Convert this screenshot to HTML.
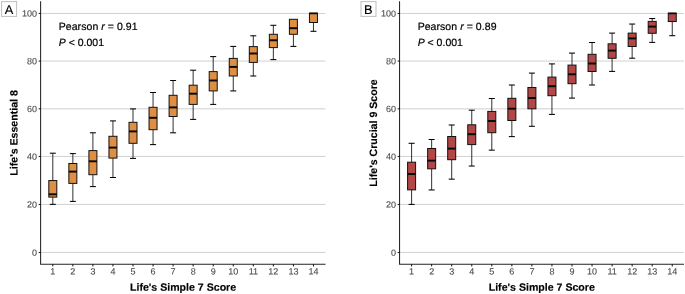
<!DOCTYPE html>
<html lang="en">
<head>
<meta charset="utf-8">
<title>Life's Simple 7 Score boxplots</title>
<style>
html,body{margin:0;padding:0;background:#fff;}
body{width:685px;height:294px;overflow:hidden;}
svg{display:block;font-family:"Liberation Sans",Arial,Helvetica,sans-serif;text-rendering:geometricPrecision;}
.w{stroke:#1a1a1a;stroke-width:0.9;fill:none;}
.b{stroke:#111;stroke-width:1;}
.c{stroke:#000;stroke-width:1.05;}
.m{stroke:#0a0a0a;stroke-width:1.95;}
.ax{stroke:#242424;stroke-width:1.05;fill:none;}
.t{stroke:#111;stroke-width:1;}
.tl{font-size:9px;fill:#4d4d4d;stroke:#4d4d4d;stroke-width:0.12;}
.ti{font-size:10.6px;font-weight:bold;fill:#000;stroke:#000;stroke-width:0.15;}
.an{font-size:10.5px;fill:#000;stroke:#000;stroke-width:0.2;}
.lb{font-size:12.8px;fill:#000;stroke:#000;stroke-width:0.15;}
</style>
</head>
<body>
<svg width="685" height="294" viewBox="0 0 685 294">
<rect width="685" height="294" fill="#fff"/>
<g>
<line x1="40.6" x2="325.5" y1="252.45" y2="252.45" stroke="#c8c8c8" stroke-width="0.85"/>
<line x1="40.6" x2="325.5" y1="204.45" y2="204.45" stroke="#c8c8c8" stroke-width="0.85"/>
<line x1="40.6" x2="325.5" y1="156.45" y2="156.45" stroke="#c8c8c8" stroke-width="0.85"/>
<line x1="40.6" x2="325.5" y1="108.85" y2="108.85" stroke="#c8c8c8" stroke-width="0.85"/>
<line x1="40.6" x2="325.5" y1="61.05" y2="61.05" stroke="#c8c8c8" stroke-width="0.85"/>
<line x1="40.6" x2="325.5" y1="13.45" y2="13.45" stroke="#c8c8c8" stroke-width="0.85"/>
<line x1="52.8" x2="52.8" y1="153.2" y2="180.55" class="w"/>
<line x1="49.8" x2="55.8" y1="153.2" y2="153.2" class="c"/>
<line x1="52.8" x2="52.8" y1="197.1" y2="204.35" class="w"/>
<line x1="49.8" x2="55.8" y1="204.35" y2="204.35" class="c"/>
<rect x="48.8" y="180.55" width="8" height="16.55" fill="#DF8F44" class="b"/>
<line x1="48.8" x2="56.8" y1="194.3" y2="194.3" class="m"/>
<line x1="72.85" x2="72.85" y1="153.6" y2="163.5" class="w"/>
<line x1="69.85" x2="75.85" y1="153.6" y2="153.6" class="c"/>
<line x1="72.85" x2="72.85" y1="183.4" y2="201.4" class="w"/>
<line x1="69.85" x2="75.85" y1="201.4" y2="201.4" class="c"/>
<rect x="68.85" y="163.5" width="8" height="19.9" fill="#DF8F44" class="b"/>
<line x1="68.85" x2="76.85" y1="171.6" y2="171.6" class="m"/>
<line x1="92.9" x2="92.9" y1="132.8" y2="150.6" class="w"/>
<line x1="89.9" x2="95.9" y1="132.8" y2="132.8" class="c"/>
<line x1="92.9" x2="92.9" y1="174.7" y2="186.6" class="w"/>
<line x1="89.9" x2="95.9" y1="186.6" y2="186.6" class="c"/>
<rect x="88.9" y="150.6" width="8" height="24.1" fill="#DF8F44" class="b"/>
<line x1="88.9" x2="96.9" y1="161.3" y2="161.3" class="m"/>
<line x1="112.95" x2="112.95" y1="120.9" y2="136.3" class="w"/>
<line x1="109.95" x2="115.95" y1="120.9" y2="120.9" class="c"/>
<line x1="112.95" x2="112.95" y1="158.1" y2="177.5" class="w"/>
<line x1="109.95" x2="115.95" y1="177.5" y2="177.5" class="c"/>
<rect x="108.95" y="136.3" width="8" height="21.8" fill="#DF8F44" class="b"/>
<line x1="108.95" x2="116.95" y1="147.6" y2="147.6" class="m"/>
<line x1="133" x2="133" y1="108.9" y2="122.3" class="w"/>
<line x1="130" x2="136" y1="108.9" y2="108.9" class="c"/>
<line x1="133" x2="133" y1="143.3" y2="158.4" class="w"/>
<line x1="130" x2="136" y1="158.4" y2="158.4" class="c"/>
<rect x="129" y="122.3" width="8" height="21" fill="#DF8F44" class="b"/>
<line x1="129" x2="137" y1="131.4" y2="131.4" class="m"/>
<line x1="153.05" x2="153.05" y1="92.5" y2="107.3" class="w"/>
<line x1="150.05" x2="156.05" y1="92.5" y2="92.5" class="c"/>
<line x1="153.05" x2="153.05" y1="129.7" y2="144.6" class="w"/>
<line x1="150.05" x2="156.05" y1="144.6" y2="144.6" class="c"/>
<rect x="149.05" y="107.3" width="8" height="22.4" fill="#DF8F44" class="b"/>
<line x1="149.05" x2="157.05" y1="117.8" y2="117.8" class="m"/>
<line x1="173.1" x2="173.1" y1="80.5" y2="95.3" class="w"/>
<line x1="170.1" x2="176.1" y1="80.5" y2="80.5" class="c"/>
<line x1="173.1" x2="173.1" y1="116.5" y2="132.8" class="w"/>
<line x1="170.1" x2="176.1" y1="132.8" y2="132.8" class="c"/>
<rect x="169.1" y="95.3" width="8" height="21.2" fill="#DF8F44" class="b"/>
<line x1="169.1" x2="177.1" y1="107.4" y2="107.4" class="m"/>
<line x1="193.15" x2="193.15" y1="70.2" y2="85.2" class="w"/>
<line x1="190.15" x2="196.15" y1="70.2" y2="70.2" class="c"/>
<line x1="193.15" x2="193.15" y1="104.4" y2="119.4" class="w"/>
<line x1="190.15" x2="196.15" y1="119.4" y2="119.4" class="c"/>
<rect x="189.15" y="85.2" width="8" height="19.2" fill="#DF8F44" class="b"/>
<line x1="189.15" x2="197.15" y1="93.7" y2="93.7" class="m"/>
<line x1="213.2" x2="213.2" y1="56.6" y2="71.6" class="w"/>
<line x1="210.2" x2="216.2" y1="56.6" y2="56.6" class="c"/>
<line x1="213.2" x2="213.2" y1="90.9" y2="104.4" class="w"/>
<line x1="210.2" x2="216.2" y1="104.4" y2="104.4" class="c"/>
<rect x="209.2" y="71.6" width="8" height="19.3" fill="#DF8F44" class="b"/>
<line x1="209.2" x2="217.2" y1="80.5" y2="80.5" class="m"/>
<line x1="233.25" x2="233.25" y1="46.4" y2="58.4" class="w"/>
<line x1="230.25" x2="236.25" y1="46.4" y2="46.4" class="c"/>
<line x1="233.25" x2="233.25" y1="76" y2="90.9" class="w"/>
<line x1="230.25" x2="236.25" y1="90.9" y2="90.9" class="c"/>
<rect x="229.25" y="58.4" width="8" height="17.6" fill="#DF8F44" class="b"/>
<line x1="229.25" x2="237.25" y1="66.9" y2="66.9" class="m"/>
<line x1="253.3" x2="253.3" y1="35.8" y2="46.6" class="w"/>
<line x1="250.3" x2="256.3" y1="35.8" y2="35.8" class="c"/>
<line x1="253.3" x2="253.3" y1="62.4" y2="76" class="w"/>
<line x1="250.3" x2="256.3" y1="76" y2="76" class="c"/>
<rect x="249.3" y="46.6" width="8" height="15.8" fill="#DF8F44" class="b"/>
<line x1="249.3" x2="257.3" y1="53.5" y2="53.5" class="m"/>
<line x1="273.35" x2="273.35" y1="25.3" y2="34.3" class="w"/>
<line x1="270.35" x2="276.35" y1="25.3" y2="25.3" class="c"/>
<line x1="273.35" x2="273.35" y1="47.6" y2="59.6" class="w"/>
<line x1="270.35" x2="276.35" y1="59.6" y2="59.6" class="c"/>
<rect x="269.35" y="34.3" width="8" height="13.3" fill="#DF8F44" class="b"/>
<line x1="269.35" x2="277.35" y1="40.3" y2="40.3" class="m"/>
<line x1="293.4" x2="293.4" y1="34.3" y2="46.4" class="w"/>
<line x1="290.4" x2="296.4" y1="46.4" y2="46.4" class="c"/>
<rect x="289.4" y="19.3" width="8" height="15" fill="#DF8F44" class="b"/>
<line x1="289.4" x2="297.4" y1="28.2" y2="28.2" class="m"/>
<line x1="313.45" x2="313.45" y1="22.5" y2="31.3" class="w"/>
<line x1="310.45" x2="316.45" y1="31.3" y2="31.3" class="c"/>
<rect x="309.45" y="13.15" width="8" height="9.35" fill="#DF8F44" class="b"/>
<line x1="309.45" x2="317.45" y1="13.45" y2="13.45" class="m" style="stroke-width:1.6"/>
<path d="M40.6 1.3V264.15H325.5" class="ax"/>
<line x1="38.7" x2="40.6" y1="252.45" y2="252.45" class="t"/>
<text x="37.1" y="255.65" transform="rotate(0.1 37.1 255.65)" class="tl" text-anchor="end">0</text>
<line x1="38.7" x2="40.6" y1="204.45" y2="204.45" class="t"/>
<text x="37.1" y="207.65" transform="rotate(0.1 37.1 207.65)" class="tl" text-anchor="end">20</text>
<line x1="38.7" x2="40.6" y1="156.45" y2="156.45" class="t"/>
<text x="37.1" y="159.65" transform="rotate(0.1 37.1 159.65)" class="tl" text-anchor="end">40</text>
<line x1="38.7" x2="40.6" y1="108.85" y2="108.85" class="t"/>
<text x="37.1" y="112.05" transform="rotate(0.1 37.1 112.05)" class="tl" text-anchor="end">60</text>
<line x1="38.7" x2="40.6" y1="61.05" y2="61.05" class="t"/>
<text x="37.1" y="64.25" transform="rotate(0.1 37.1 64.25)" class="tl" text-anchor="end">80</text>
<line x1="38.7" x2="40.6" y1="13.45" y2="13.45" class="t"/>
<text x="37.1" y="16.65" transform="rotate(0.1 37.1 16.65)" class="tl" text-anchor="end">100</text>
<line x1="52.8" x2="52.8" y1="264.15" y2="266.45" class="t"/>
<text x="52.8" y="274.5" transform="rotate(0.1 52.8 274.5)" class="tl" text-anchor="middle">1</text>
<line x1="72.85" x2="72.85" y1="264.15" y2="266.45" class="t"/>
<text x="72.85" y="274.5" transform="rotate(0.1 72.85 274.5)" class="tl" text-anchor="middle">2</text>
<line x1="92.9" x2="92.9" y1="264.15" y2="266.45" class="t"/>
<text x="92.9" y="274.5" transform="rotate(0.1 92.9 274.5)" class="tl" text-anchor="middle">3</text>
<line x1="112.95" x2="112.95" y1="264.15" y2="266.45" class="t"/>
<text x="112.95" y="274.5" transform="rotate(0.1 112.95 274.5)" class="tl" text-anchor="middle">4</text>
<line x1="133" x2="133" y1="264.15" y2="266.45" class="t"/>
<text x="133" y="274.5" transform="rotate(0.1 133 274.5)" class="tl" text-anchor="middle">5</text>
<line x1="153.05" x2="153.05" y1="264.15" y2="266.45" class="t"/>
<text x="153.05" y="274.5" transform="rotate(0.1 153.05 274.5)" class="tl" text-anchor="middle">6</text>
<line x1="173.1" x2="173.1" y1="264.15" y2="266.45" class="t"/>
<text x="173.1" y="274.5" transform="rotate(0.1 173.1 274.5)" class="tl" text-anchor="middle">7</text>
<line x1="193.15" x2="193.15" y1="264.15" y2="266.45" class="t"/>
<text x="193.15" y="274.5" transform="rotate(0.1 193.15 274.5)" class="tl" text-anchor="middle">8</text>
<line x1="213.2" x2="213.2" y1="264.15" y2="266.45" class="t"/>
<text x="213.2" y="274.5" transform="rotate(0.1 213.2 274.5)" class="tl" text-anchor="middle">9</text>
<line x1="233.25" x2="233.25" y1="264.15" y2="266.45" class="t"/>
<text x="233.25" y="274.5" transform="rotate(0.1 233.25 274.5)" class="tl" text-anchor="middle">10</text>
<line x1="253.3" x2="253.3" y1="264.15" y2="266.45" class="t"/>
<text x="253.3" y="274.5" transform="rotate(0.1 253.3 274.5)" class="tl" text-anchor="middle">11</text>
<line x1="273.35" x2="273.35" y1="264.15" y2="266.45" class="t"/>
<text x="273.35" y="274.5" transform="rotate(0.1 273.35 274.5)" class="tl" text-anchor="middle">12</text>
<line x1="293.4" x2="293.4" y1="264.15" y2="266.45" class="t"/>
<text x="293.4" y="274.5" transform="rotate(0.1 293.4 274.5)" class="tl" text-anchor="middle">13</text>
<line x1="313.45" x2="313.45" y1="264.15" y2="266.45" class="t"/>
<text x="313.45" y="274.5" transform="rotate(0.1 313.45 274.5)" class="tl" text-anchor="middle">14</text>
<text x="183.05" y="290.8" transform="rotate(0.08 183.05 290.8)" class="ti" text-anchor="middle">Life's Simple 7 Score</text>
<text transform="translate(17.5 132.9) rotate(-89.92)" class="ti" text-anchor="middle">Life's Essential 8</text>
<text x="58.75" y="30" class="an" letter-spacing="0.06">Pearson <tspan font-style="italic">r</tspan> = 0.91</text>
<text x="58.75" y="46" class="an"><tspan font-style="italic">P</tspan> &lt; 0.001</text>
<rect x="1.55" y="1.55" width="15" height="14.9" fill="#fff" stroke="#c4c4c4" stroke-width="1.1"/>
<text x="8.9" y="13.6" class="lb" text-anchor="middle">A</text>
</g>
<g>
<line x1="399.55" x2="684" y1="252.45" y2="252.45" stroke="#c8c8c8" stroke-width="0.85"/>
<line x1="399.55" x2="684" y1="204.45" y2="204.45" stroke="#c8c8c8" stroke-width="0.85"/>
<line x1="399.55" x2="684" y1="156.45" y2="156.45" stroke="#c8c8c8" stroke-width="0.85"/>
<line x1="399.55" x2="684" y1="108.85" y2="108.85" stroke="#c8c8c8" stroke-width="0.85"/>
<line x1="399.55" x2="684" y1="61.05" y2="61.05" stroke="#c8c8c8" stroke-width="0.85"/>
<line x1="399.55" x2="684" y1="13.45" y2="13.45" stroke="#c8c8c8" stroke-width="0.85"/>
<line x1="411.6" x2="411.6" y1="143.3" y2="162.2" class="w"/>
<line x1="408.6" x2="414.6" y1="143.3" y2="143.3" class="c"/>
<line x1="411.6" x2="411.6" y1="189.85" y2="204.4" class="w"/>
<line x1="408.6" x2="414.6" y1="204.4" y2="204.4" class="c"/>
<rect x="407.6" y="162.2" width="8" height="27.65" fill="#B24745" class="b"/>
<line x1="407.6" x2="415.6" y1="174" y2="174" class="m"/>
<line x1="431.65" x2="431.65" y1="139.5" y2="148.5" class="w"/>
<line x1="428.65" x2="434.65" y1="139.5" y2="139.5" class="c"/>
<line x1="431.65" x2="431.65" y1="168.8" y2="189.95" class="w"/>
<line x1="428.65" x2="434.65" y1="189.95" y2="189.95" class="c"/>
<rect x="427.65" y="148.5" width="8" height="20.3" fill="#B24745" class="b"/>
<line x1="427.65" x2="435.65" y1="160.65" y2="160.65" class="m"/>
<line x1="451.7" x2="451.7" y1="125" y2="136.5" class="w"/>
<line x1="448.7" x2="454.7" y1="125" y2="125" class="c"/>
<line x1="451.7" x2="451.7" y1="159.7" y2="179.15" class="w"/>
<line x1="448.7" x2="454.7" y1="179.15" y2="179.15" class="c"/>
<rect x="447.7" y="136.5" width="8" height="23.2" fill="#B24745" class="b"/>
<line x1="447.7" x2="455.7" y1="148.6" y2="148.6" class="m"/>
<line x1="471.75" x2="471.75" y1="110.2" y2="124.8" class="w"/>
<line x1="468.75" x2="474.75" y1="110.2" y2="110.2" class="c"/>
<line x1="471.75" x2="471.75" y1="144.6" y2="166.05" class="w"/>
<line x1="468.75" x2="474.75" y1="166.05" y2="166.05" class="c"/>
<rect x="467.75" y="124.8" width="8" height="19.8" fill="#B24745" class="b"/>
<line x1="467.75" x2="475.75" y1="134.2" y2="134.2" class="m"/>
<line x1="491.8" x2="491.8" y1="98.5" y2="111.4" class="w"/>
<line x1="488.8" x2="494.8" y1="98.5" y2="98.5" class="c"/>
<line x1="491.8" x2="491.8" y1="132.7" y2="150.15" class="w"/>
<line x1="488.8" x2="494.8" y1="150.15" y2="150.15" class="c"/>
<rect x="487.8" y="111.4" width="8" height="21.3" fill="#B24745" class="b"/>
<line x1="487.8" x2="495.8" y1="121" y2="121" class="m"/>
<line x1="511.85" x2="511.85" y1="85" y2="98.3" class="w"/>
<line x1="508.85" x2="514.85" y1="85" y2="85" class="c"/>
<line x1="511.85" x2="511.85" y1="120.5" y2="136.6" class="w"/>
<line x1="508.85" x2="514.85" y1="136.6" y2="136.6" class="c"/>
<rect x="507.85" y="98.3" width="8" height="22.2" fill="#B24745" class="b"/>
<line x1="507.85" x2="515.85" y1="108.7" y2="108.7" class="m"/>
<line x1="531.9" x2="531.9" y1="73.1" y2="87.5" class="w"/>
<line x1="528.9" x2="534.9" y1="73.1" y2="73.1" class="c"/>
<line x1="531.9" x2="531.9" y1="108.8" y2="126.3" class="w"/>
<line x1="528.9" x2="534.9" y1="126.3" y2="126.3" class="c"/>
<rect x="527.9" y="87.5" width="8" height="21.3" fill="#B24745" class="b"/>
<line x1="527.9" x2="535.9" y1="98" y2="98" class="m"/>
<line x1="551.95" x2="551.95" y1="63.9" y2="77.1" class="w"/>
<line x1="548.95" x2="554.95" y1="63.9" y2="63.9" class="c"/>
<line x1="551.95" x2="551.95" y1="95.7" y2="114.4" class="w"/>
<line x1="548.95" x2="554.95" y1="114.4" y2="114.4" class="c"/>
<rect x="547.95" y="77.1" width="8" height="18.6" fill="#B24745" class="b"/>
<line x1="547.95" x2="555.95" y1="86.2" y2="86.2" class="m"/>
<line x1="572" x2="572" y1="53.1" y2="65.1" class="w"/>
<line x1="569" x2="575" y1="53.1" y2="53.1" class="c"/>
<line x1="572" x2="572" y1="83.7" y2="98.1" class="w"/>
<line x1="569" x2="575" y1="98.1" y2="98.1" class="c"/>
<rect x="568" y="65.1" width="8" height="18.6" fill="#B24745" class="b"/>
<line x1="568" x2="576" y1="74.3" y2="74.3" class="m"/>
<line x1="592.05" x2="592.05" y1="42.5" y2="54.3" class="w"/>
<line x1="589.05" x2="595.05" y1="42.5" y2="42.5" class="c"/>
<line x1="592.05" x2="592.05" y1="71.5" y2="85" class="w"/>
<line x1="589.05" x2="595.05" y1="85" y2="85" class="c"/>
<rect x="588.05" y="54.3" width="8" height="17.2" fill="#B24745" class="b"/>
<line x1="588.05" x2="596.05" y1="63.5" y2="63.5" class="m"/>
<line x1="612.1" x2="612.1" y1="33.1" y2="43.8" class="w"/>
<line x1="609.1" x2="615.1" y1="33.1" y2="33.1" class="c"/>
<line x1="612.1" x2="612.1" y1="58.3" y2="71.4" class="w"/>
<line x1="609.1" x2="615.1" y1="71.4" y2="71.4" class="c"/>
<rect x="608.1" y="43.8" width="8" height="14.5" fill="#B24745" class="b"/>
<line x1="608.1" x2="616.1" y1="50.6" y2="50.6" class="m"/>
<line x1="632.15" x2="632.15" y1="24.05" y2="33.1" class="w"/>
<line x1="629.15" x2="635.15" y1="24.05" y2="24.05" class="c"/>
<line x1="632.15" x2="632.15" y1="46.5" y2="58.2" class="w"/>
<line x1="629.15" x2="635.15" y1="58.2" y2="58.2" class="c"/>
<rect x="628.15" y="33.1" width="8" height="13.4" fill="#B24745" class="b"/>
<line x1="628.15" x2="636.15" y1="38.4" y2="38.4" class="m"/>
<line x1="652.2" x2="652.2" y1="18.55" y2="21.4" class="w"/>
<line x1="649.2" x2="655.2" y1="18.55" y2="18.55" class="c"/>
<line x1="652.2" x2="652.2" y1="33.3" y2="42.4" class="w"/>
<line x1="649.2" x2="655.2" y1="42.4" y2="42.4" class="c"/>
<rect x="648.2" y="21.4" width="8" height="11.9" fill="#B24745" class="b"/>
<line x1="648.2" x2="656.2" y1="26.6" y2="26.6" class="m"/>
<line x1="672.25" x2="672.25" y1="21.55" y2="35.7" class="w"/>
<line x1="669.25" x2="675.25" y1="35.7" y2="35.7" class="c"/>
<rect x="668.25" y="13.15" width="8" height="8.4" fill="#B24745" class="b"/>
<line x1="668.25" x2="676.25" y1="13.45" y2="13.45" class="m" style="stroke-width:1.6"/>
<path d="M399.55 1.3V264.15H684" class="ax"/>
<line x1="397.65" x2="399.55" y1="252.45" y2="252.45" class="t"/>
<text x="396.05" y="255.65" transform="rotate(0.1 396.05 255.65)" class="tl" text-anchor="end">0</text>
<line x1="397.65" x2="399.55" y1="204.45" y2="204.45" class="t"/>
<text x="396.05" y="207.65" transform="rotate(0.1 396.05 207.65)" class="tl" text-anchor="end">20</text>
<line x1="397.65" x2="399.55" y1="156.45" y2="156.45" class="t"/>
<text x="396.05" y="159.65" transform="rotate(0.1 396.05 159.65)" class="tl" text-anchor="end">40</text>
<line x1="397.65" x2="399.55" y1="108.85" y2="108.85" class="t"/>
<text x="396.05" y="112.05" transform="rotate(0.1 396.05 112.05)" class="tl" text-anchor="end">60</text>
<line x1="397.65" x2="399.55" y1="61.05" y2="61.05" class="t"/>
<text x="396.05" y="64.25" transform="rotate(0.1 396.05 64.25)" class="tl" text-anchor="end">80</text>
<line x1="397.65" x2="399.55" y1="13.45" y2="13.45" class="t"/>
<text x="396.05" y="16.65" transform="rotate(0.1 396.05 16.65)" class="tl" text-anchor="end">100</text>
<line x1="411.6" x2="411.6" y1="264.15" y2="266.45" class="t"/>
<text x="411.6" y="274.5" transform="rotate(0.1 411.6 274.5)" class="tl" text-anchor="middle">1</text>
<line x1="431.65" x2="431.65" y1="264.15" y2="266.45" class="t"/>
<text x="431.65" y="274.5" transform="rotate(0.1 431.65 274.5)" class="tl" text-anchor="middle">2</text>
<line x1="451.7" x2="451.7" y1="264.15" y2="266.45" class="t"/>
<text x="451.7" y="274.5" transform="rotate(0.1 451.7 274.5)" class="tl" text-anchor="middle">3</text>
<line x1="471.75" x2="471.75" y1="264.15" y2="266.45" class="t"/>
<text x="471.75" y="274.5" transform="rotate(0.1 471.75 274.5)" class="tl" text-anchor="middle">4</text>
<line x1="491.8" x2="491.8" y1="264.15" y2="266.45" class="t"/>
<text x="491.8" y="274.5" transform="rotate(0.1 491.8 274.5)" class="tl" text-anchor="middle">5</text>
<line x1="511.85" x2="511.85" y1="264.15" y2="266.45" class="t"/>
<text x="511.85" y="274.5" transform="rotate(0.1 511.85 274.5)" class="tl" text-anchor="middle">6</text>
<line x1="531.9" x2="531.9" y1="264.15" y2="266.45" class="t"/>
<text x="531.9" y="274.5" transform="rotate(0.1 531.9 274.5)" class="tl" text-anchor="middle">7</text>
<line x1="551.95" x2="551.95" y1="264.15" y2="266.45" class="t"/>
<text x="551.95" y="274.5" transform="rotate(0.1 551.95 274.5)" class="tl" text-anchor="middle">8</text>
<line x1="572" x2="572" y1="264.15" y2="266.45" class="t"/>
<text x="572" y="274.5" transform="rotate(0.1 572 274.5)" class="tl" text-anchor="middle">9</text>
<line x1="592.05" x2="592.05" y1="264.15" y2="266.45" class="t"/>
<text x="592.05" y="274.5" transform="rotate(0.1 592.05 274.5)" class="tl" text-anchor="middle">10</text>
<line x1="612.1" x2="612.1" y1="264.15" y2="266.45" class="t"/>
<text x="612.1" y="274.5" transform="rotate(0.1 612.1 274.5)" class="tl" text-anchor="middle">11</text>
<line x1="632.15" x2="632.15" y1="264.15" y2="266.45" class="t"/>
<text x="632.15" y="274.5" transform="rotate(0.1 632.15 274.5)" class="tl" text-anchor="middle">12</text>
<line x1="652.2" x2="652.2" y1="264.15" y2="266.45" class="t"/>
<text x="652.2" y="274.5" transform="rotate(0.1 652.2 274.5)" class="tl" text-anchor="middle">13</text>
<line x1="672.25" x2="672.25" y1="264.15" y2="266.45" class="t"/>
<text x="672.25" y="274.5" transform="rotate(0.1 672.25 274.5)" class="tl" text-anchor="middle">14</text>
<text x="541.77" y="290.8" transform="rotate(0.08 541.77 290.8)" class="ti" text-anchor="middle">Life's Simple 7 Score</text>
<text transform="translate(377 133) rotate(-89.92)" class="ti" text-anchor="middle">Life's Crucial 9 Score</text>
<text x="417.65" y="30" class="an" letter-spacing="0.06">Pearson <tspan font-style="italic">r</tspan> = 0.89</text>
<text x="417.65" y="46" class="an"><tspan font-style="italic">P</tspan> &lt; 0.001</text>
<rect x="361" y="1.55" width="15" height="14.9" fill="#fff" stroke="#c4c4c4" stroke-width="1.1"/>
<text x="368.35" y="13.6" class="lb" text-anchor="middle">B</text>
</g>
</svg>
</body>
</html>
